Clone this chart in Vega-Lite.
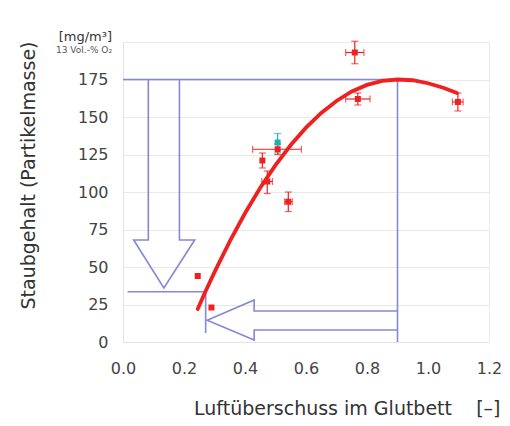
{
  "$schema": "https://vega.github.io/schema/vega-lite/v6.json",
  "width": 366,
  "height": 300,
  "autosize": {"type": "none"},
  "padding": {"left": 123, "top": 42, "right": 21, "bottom": 84},
  "background": "white",
  "config": {
    "font": "DejaVu Sans",
    "view": {"stroke": "#ebebeb"},
    "axisX": {
      "grid": false, "ticks": false, "domainColor": "#e3e3e3",
      "labelFontSize": 16, "labelColor": "#444", "labelPadding": 18,
      "titleFontSize": 19, "titleFontWeight": "normal", "titleColor": "#333",
      "titleX": 377, "titleY": 66, "titleAlign": "right", "titleBaseline": "middle",
      "labelFlush": false
    },
    "axisY": {
      "grid": true, "gridColor": "#e8e8e8", "ticks": false, "domainColor": "#e3e3e3",
      "labelFontSize": 16, "labelColor": "#444", "labelPadding": 15,
      "titleFontSize": 19, "titleFontWeight": "normal", "titleColor": "#333",
      "titleX": -95, "titleY": 133, "titleAngle": 270, "titleAlign": "center", "titleBaseline": "middle"
    }
  },
  "title": {
    "text": "[mg/m³]",
    "subtitle": "13 Vol.-% O₂",
    "frame": "group",
    "anchor": "start",
    "align": "right",
    "dx": -11,
    "offset": -14,
    "fontSize": 13,
    "fontWeight": "normal",
    "color": "#333",
    "subtitleFontSize": 9,
    "subtitleColor": "#555",
    "subtitlePadding": 2
  },
  "datasets": {
    "pts": [
      {"x": 0.245, "y": 44, "xlo": null, "xhi": null, "ylo": null, "yhi": null, "grp": "red"},
      {"x": 0.29, "y": 23, "xlo": null, "xhi": null, "ylo": null, "yhi": null, "grp": "red"},
      {"x": 0.457, "y": 121, "xlo": null, "xhi": null, "ylo": 116, "yhi": 126, "grp": "red"},
      {"x": 0.473, "y": 107, "xlo": 0.455, "xhi": 0.49, "ylo": 99, "yhi": 114, "grp": "red"},
      {"x": 0.507, "y": 128.5, "xlo": 0.425, "xhi": 0.585, "ylo": 125, "yhi": 132, "grp": "red"},
      {"x": 0.507, "y": 133, "xlo": null, "xhi": null, "ylo": 126, "yhi": 139, "grp": "cyan"},
      {"x": 0.542, "y": 93.5, "xlo": 0.53, "xhi": 0.555, "ylo": 87, "yhi": 100, "grp": "red"},
      {"x": 0.76, "y": 193, "xlo": 0.73, "xhi": 0.79, "ylo": 185.5, "yhi": 200.5, "grp": "red"},
      {"x": 0.77, "y": 162, "xlo": 0.73, "xhi": 0.81, "ylo": 158, "yhi": 166, "grp": "red"},
      {"x": 1.098, "y": 160, "xlo": 1.08, "xhi": 1.115, "ylo": 154, "yhi": 166, "grp": "red"}
    ],
    "curve": [
      {"x": 0.245, "y": 22}, {"x": 0.27, "y": 33.5}, {"x": 0.3, "y": 46.6},
      {"x": 0.35, "y": 67.1}, {"x": 0.4, "y": 85.8}, {"x": 0.45, "y": 102.8},
      {"x": 0.5, "y": 117.9}, {"x": 0.55, "y": 131.3}, {"x": 0.6, "y": 142.9},
      {"x": 0.65, "y": 152.7}, {"x": 0.7, "y": 160.7}, {"x": 0.75, "y": 167},
      {"x": 0.8, "y": 171.4}, {"x": 0.85, "y": 174.1}, {"x": 0.9, "y": 175},
      {"x": 0.95, "y": 174.5}, {"x": 1.0, "y": 172.5}, {"x": 1.05, "y": 169.5},
      {"x": 1.095, "y": 166}
    ],
    "lines": [
      {"path": "A", "i": 1, "x": 0.0, "y": 175},
      {"path": "A", "i": 2, "x": 0.9, "y": 175},
      {"path": "A", "i": 3, "x": 0.9, "y": 0},
      {"path": "B", "i": 1, "x": 0.015, "y": 33.5},
      {"path": "B", "i": 2, "x": 0.271, "y": 33.5},
      {"path": "E", "i": 1, "x": 0.271, "y": 33.5},
      {"path": "E", "i": 2, "x": 0.271, "y": 6},
      {"path": "C", "i": 1, "x": 0.083, "y": 175},
      {"path": "C", "i": 2, "x": 0.083, "y": 68},
      {"path": "C", "i": 3, "x": 0.035, "y": 68},
      {"path": "C", "i": 4, "x": 0.134, "y": 36},
      {"path": "C", "i": 5, "x": 0.235, "y": 68},
      {"path": "C", "i": 6, "x": 0.185, "y": 68},
      {"path": "C", "i": 7, "x": 0.185, "y": 175},
      {"path": "D", "i": 1, "x": 0.9, "y": 20.7},
      {"path": "D", "i": 2, "x": 0.43, "y": 20.7},
      {"path": "D", "i": 3, "x": 0.43, "y": 28},
      {"path": "D", "i": 4, "x": 0.276, "y": 14.5},
      {"path": "D", "i": 5, "x": 0.43, "y": 1.3},
      {"path": "D", "i": 6, "x": 0.43, "y": 8},
      {"path": "D", "i": 7, "x": 0.9, "y": 8}
    ]
  },
  "layer": [
    {
      "data": {"name": "lines"},
      "mark": {"type": "line", "color": "#8589d0", "strokeWidth": 1.6, "strokeJoin": "miter"},
      "encoding": {
        "x": {"field": "x", "type": "quantitative", "scale": {"domain": [0, 1.2], "nice": false}, "title": "Luftüberschuss im Glutbett\u00a0\u00a0\u00a0\u00a0[–]", "axis": {"values": [0, 0.2, 0.4, 0.6, 0.8, 1.0, 1.2], "format": ".1f"}},
        "y": {"field": "y", "type": "quantitative", "scale": {"domain": [0, 200], "nice": false}, "title": "Staubgehalt (Partikelmasse)", "axis": {"values": [0, 25, 50, 75, 100, 125, 150, 175]}},
        "detail": {"field": "path"},
        "order": {"field": "i", "type": "quantitative"}
      }
    },
    {
      "data": {"name": "curve"},
      "mark": {"type": "line", "color": "#ee2020", "strokeWidth": 3.8, "strokeCap": "round"},
      "encoding": {
        "x": {"field": "x", "type": "quantitative", "title": "Luftüberschuss im Glutbett\u00a0\u00a0\u00a0\u00a0[–]"},
        "y": {"field": "y", "type": "quantitative", "title": "Staubgehalt (Partikelmasse)"},
        "order": {"field": "x", "type": "quantitative"}
      }
    },
    {
      "data": {"name": "pts"},
      "transform": [{"filter": "datum.ylo != null"}],
      "mark": {"type": "errorbar", "ticks": {"size": 7}, "thickness": 1.2},
      "encoding": {
        "x": {"field": "x", "type": "quantitative", "title": "Luftüberschuss im Glutbett\u00a0\u00a0\u00a0\u00a0[–]"},
        "y": {"field": "ylo", "type": "quantitative", "title": "Staubgehalt (Partikelmasse)"},
        "y2": {"field": "yhi"},
        "color": {"field": "grp", "type": "nominal", "scale": {"domain": ["red", "cyan"], "range": ["#ee2020", "#1fb0b0"]}, "legend": null}
      }
    },
    {
      "data": {"name": "pts"},
      "transform": [{"filter": "datum.xlo != null"}],
      "mark": {"type": "errorbar", "ticks": {"size": 7}, "thickness": 1.2},
      "encoding": {
        "y": {"field": "y", "type": "quantitative", "title": "Staubgehalt (Partikelmasse)"},
        "x": {"field": "xlo", "type": "quantitative", "title": "Luftüberschuss im Glutbett\u00a0\u00a0\u00a0\u00a0[–]"},
        "x2": {"field": "xhi"},
        "color": {"field": "grp", "type": "nominal", "legend": null}
      }
    },
    {
      "data": {"name": "pts"},
      "mark": {"type": "point", "shape": "square", "filled": true, "size": 36, "opacity": 1},
      "encoding": {
        "x": {"field": "x", "type": "quantitative", "title": "Luftüberschuss im Glutbett\u00a0\u00a0\u00a0\u00a0[–]"},
        "y": {"field": "y", "type": "quantitative", "title": "Staubgehalt (Partikelmasse)"},
        "color": {"field": "grp", "type": "nominal", "legend": null}
      }
    }
  ]
}
